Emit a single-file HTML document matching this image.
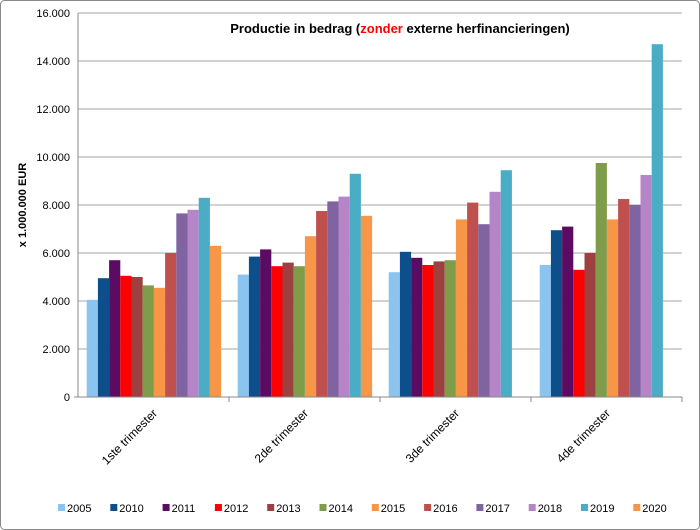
<!DOCTYPE html><html><head><style>body{margin:0;background:#fff}svg{display:block;font-family:"Liberation Sans",sans-serif}</style></head><body>
<svg width="700" height="530" xmlns="http://www.w3.org/2000/svg">
<rect x="0.5" y="0.5" width="699" height="529" rx="4" fill="#fff" stroke="#888"/>
<g stroke="#a6a6a6" stroke-width="1">
<line x1="78" y1="349" x2="682" y2="349"/><line x1="78" y1="301" x2="682" y2="301"/><line x1="78" y1="253" x2="682" y2="253"/><line x1="78" y1="205" x2="682" y2="205"/><line x1="78" y1="157" x2="682" y2="157"/><line x1="78" y1="109" x2="682" y2="109"/><line x1="78" y1="61" x2="682" y2="61"/><line x1="78" y1="13" x2="682" y2="13"/>
</g>
<g>
<rect x="86.7" y="299.8" width="11.2" height="97.2" fill="#8cc4f0"/>
<rect x="97.9" y="278.2" width="11.2" height="118.8" fill="#0d4f8b"/>
<rect x="109.1" y="260.2" width="11.2" height="136.8" fill="#5c0b63"/>
<rect x="120.3" y="275.8" width="11.2" height="121.2" fill="#ff0000"/>
<rect x="131.5" y="277" width="11.2" height="120" fill="#9c4040"/>
<rect x="142.7" y="285.4" width="11.2" height="111.6" fill="#7f9c4a"/>
<rect x="153.9" y="287.8" width="11.2" height="109.2" fill="#f79646"/>
<rect x="165.1" y="253" width="11.2" height="144" fill="#c0504d"/>
<rect x="176.3" y="213.4" width="11.2" height="183.6" fill="#8064a2"/>
<rect x="187.5" y="209.8" width="11.2" height="187.2" fill="#b585c8"/>
<rect x="198.7" y="197.8" width="11.2" height="199.2" fill="#4bacc6"/>
<rect x="209.9" y="245.8" width="11.2" height="151.2" fill="#f79646"/>

<rect x="237.7" y="274.6" width="11.2" height="122.4" fill="#8cc4f0"/>
<rect x="248.9" y="256.6" width="11.2" height="140.4" fill="#0d4f8b"/>
<rect x="260.1" y="249.4" width="11.2" height="147.6" fill="#5c0b63"/>
<rect x="271.3" y="266.2" width="11.2" height="130.8" fill="#ff0000"/>
<rect x="282.5" y="262.6" width="11.2" height="134.4" fill="#9c4040"/>
<rect x="293.7" y="266.2" width="11.2" height="130.8" fill="#7f9c4a"/>
<rect x="304.9" y="236.2" width="11.2" height="160.8" fill="#f79646"/>
<rect x="316.1" y="211" width="11.2" height="186" fill="#c0504d"/>
<rect x="327.3" y="201.4" width="11.2" height="195.6" fill="#8064a2"/>
<rect x="338.5" y="196.6" width="11.2" height="200.4" fill="#b585c8"/>
<rect x="349.7" y="173.8" width="11.2" height="223.2" fill="#4bacc6"/>
<rect x="360.9" y="215.8" width="11.2" height="181.2" fill="#f79646"/>

<rect x="388.7" y="272.2" width="11.2" height="124.8" fill="#8cc4f0"/>
<rect x="399.9" y="251.8" width="11.2" height="145.2" fill="#0d4f8b"/>
<rect x="411.1" y="257.8" width="11.2" height="139.2" fill="#5c0b63"/>
<rect x="422.3" y="265" width="11.2" height="132" fill="#ff0000"/>
<rect x="433.5" y="261.4" width="11.2" height="135.6" fill="#9c4040"/>
<rect x="444.7" y="260.2" width="11.2" height="136.8" fill="#7f9c4a"/>
<rect x="455.9" y="219.4" width="11.2" height="177.6" fill="#f79646"/>
<rect x="467.1" y="202.6" width="11.2" height="194.4" fill="#c0504d"/>
<rect x="478.3" y="224.2" width="11.2" height="172.8" fill="#8064a2"/>
<rect x="489.5" y="191.8" width="11.2" height="205.2" fill="#b585c8"/>
<rect x="500.7" y="170.2" width="11.2" height="226.8" fill="#4bacc6"/>

<rect x="539.7" y="265" width="11.2" height="132" fill="#8cc4f0"/>
<rect x="550.9" y="230.2" width="11.2" height="166.8" fill="#0d4f8b"/>
<rect x="562.1" y="226.6" width="11.2" height="170.4" fill="#5c0b63"/>
<rect x="573.3" y="269.8" width="11.2" height="127.2" fill="#ff0000"/>
<rect x="584.5" y="253" width="11.2" height="144" fill="#9c4040"/>
<rect x="595.7" y="163" width="11.2" height="234" fill="#7f9c4a"/>
<rect x="606.9" y="219.4" width="11.2" height="177.6" fill="#f79646"/>
<rect x="618.1" y="199" width="11.2" height="198" fill="#c0504d"/>
<rect x="629.3" y="205" width="11.2" height="192" fill="#8064a2"/>
<rect x="640.5" y="175" width="11.2" height="222" fill="#b585c8"/>
<rect x="651.7" y="44.2" width="11.2" height="352.8" fill="#4bacc6"/>
</g>
<g stroke="#888"><line x1="78" y1="13" x2="78" y2="397"/><line x1="78" y1="397" x2="682" y2="397"/>
<line x1="229" y1="397" x2="229" y2="402"/><line x1="380" y1="397" x2="380" y2="402"/><line x1="531" y1="397" x2="531" y2="402"/><line x1="682" y1="397" x2="682" y2="402"/>
<line x1="74" y1="397" x2="78" y2="397"/></g>
<g font-size="11" text-anchor="end" fill="#000">
<text x="70" y="401">0</text><text x="70" y="353">2.000</text><text x="70" y="305">4.000</text><text x="70" y="257">6.000</text><text x="70" y="209">8.000</text><text x="70" y="161">10.000</text><text x="70" y="113">12.000</text><text x="70" y="65">14.000</text><text x="70" y="17">16.000</text>
</g>
<text transform="translate(26,205) rotate(-90)" text-anchor="middle" font-size="11" font-weight="bold">x 1.000.000  EUR</text>
<text x="400" y="33" text-anchor="middle" font-size="13" font-weight="bold">Productie in bedrag (<tspan fill="#f00">zonder</tspan> externe herfinancieringen)</text>
<g font-size="12" text-anchor="end">
<text transform="translate(158,414) rotate(-45)">1ste trimester</text>
<text transform="translate(309,414) rotate(-45)">2de trimester</text>
<text transform="translate(460,414) rotate(-45)">3de trimester</text>
<text transform="translate(611,414) rotate(-45)">4de trimester</text>
</g>
<g font-size="11">
<rect x="58" y="504" width="7" height="7" fill="#8cc4f0"/><text x="67" y="512">2005</text>
<rect x="110.3" y="504" width="7" height="7" fill="#0d4f8b"/><text x="119.3" y="512">2010</text>
<rect x="162.6" y="504" width="7" height="7" fill="#5c0b63"/><text x="171.6" y="512">2011</text>
<rect x="214.9" y="504" width="7" height="7" fill="#ff0000"/><text x="223.9" y="512">2012</text>
<rect x="267.2" y="504" width="7" height="7" fill="#9c4040"/><text x="276.2" y="512">2013</text>
<rect x="319.5" y="504" width="7" height="7" fill="#7f9c4a"/><text x="328.5" y="512">2014</text>
<rect x="371.8" y="504" width="7" height="7" fill="#f79646"/><text x="380.8" y="512">2015</text>
<rect x="424.1" y="504" width="7" height="7" fill="#c0504d"/><text x="433.1" y="512">2016</text>
<rect x="476.4" y="504" width="7" height="7" fill="#8064a2"/><text x="485.4" y="512">2017</text>
<rect x="528.7" y="504" width="7" height="7" fill="#b585c8"/><text x="537.7" y="512">2018</text>
<rect x="581" y="504" width="7" height="7" fill="#4bacc6"/><text x="590" y="512">2019</text>
<rect x="633.3" y="504" width="7" height="7" fill="#f79646"/><text x="642.3" y="512">2020</text>
</g>
</svg></body></html>
